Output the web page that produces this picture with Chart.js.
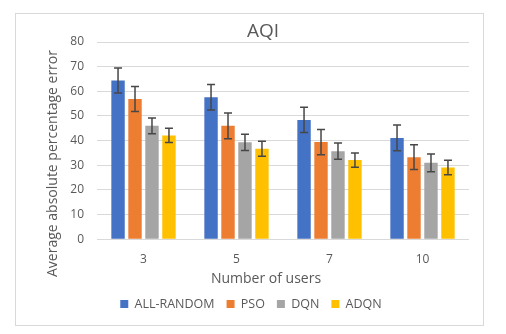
<!DOCTYPE html>
<html>
<head>
<meta charset="utf-8">
<script src="https://cdn.jsdelivr.net/npm/chart.js@4/dist/chart.umd.min.js"></script>
<style>
  html, body { margin: 0; padding: 0; background: #ffffff; }
  #wrap { width: 506px; height: 334px; }
</style>
</head>
<body>
<div id="wrap"><canvas id="c" width="506" height="334"></canvas></div>
<script>
const chartTitle = "AQI";
const xTitle = "Number of users";
const yTitle = "Average absolute percentage error";
const categories = ["3", "5", "7", "10"];
const seriesNames = ["ALL-RANDOM", "PSO", "DQN", "ADQN"];
const allRandom = [64.4, 57.6, 48.4, 41.1];
const allRandomErr = [5.1, 5.2, 5.1, 5.2];
const pso = [56.9, 46.0, 39.4, 33.3];
const psoErr = [5.1, 5.2, 5.1, 5.0];
const dqn = [46.0, 39.3, 35.7, 31.0];
const dqnErr = [3.2, 3.3, 3.3, 3.6];
const adqn = [42.1, 36.7, 32.1, 29.1];
const adqnErr = [2.9, 3.0, 2.9, 2.9];
const yTicks = [0, 10, 20, 30, 40, 50, 60, 70, 80];

const colors = ["#4472C4", "#ED7D31", "#A5A5A5", "#FFC000"];
const textColor = "#595959";
const fontFamily = "'Open Sans', sans-serif";

const seriesValues = [allRandom, pso, dqn, adqn];
const seriesErrors = [allRandomErr, psoErr, dqnErr, adqnErr];

const datasets = seriesNames.map((name, i) => ({
  label: name,
  data: seriesValues[i],
  errors: seriesErrors[i],
  backgroundColor: colors[i],
  borderWidth: 0,
  categoryPercentage: 0.73,
  barPercentage: 0.79
}));

const frameAndText = {
  id: "frameAndText",
  beforeDraw(chart) {
    const ctx = chart.ctx;
    ctx.save();
    ctx.fillStyle = "#ffffff";
    ctx.fillRect(0, 0, chart.width, chart.height);
    ctx.strokeStyle = "#d9d9d9";
    ctx.lineWidth = 1;
    ctx.strokeRect(15.5, 13.5, 468, 312);
    ctx.restore();
  },
  afterDraw(chart) {
    const ctx = chart.ctx;
    ctx.save();
    ctx.fillStyle = textColor;
    ctx.textAlign = "center";
    ctx.textBaseline = "alphabetic";
    ctx.font = "19px " + fontFamily;
    ctx.fillText(chartTitle, 263, 37);
    ctx.font = "14px " + fontFamily;
    ctx.fillText(xTitle, 266, 283);
    ctx.translate(56.5, 163.5);
    ctx.rotate(-Math.PI / 2);
    ctx.fillText(yTitle, 0, 0);
    ctx.restore();
  }
};

const errorBars = {
  id: "errorBars",
  afterDatasetsDraw(chart) {
    const ctx = chart.ctx;
    const yScale = chart.scales.y;
    ctx.save();
    ctx.strokeStyle = "#474747";
    ctx.lineWidth = 1.5;
    chart.data.datasets.forEach((ds, i) => {
      const meta = chart.getDatasetMeta(i);
      meta.data.forEach((bar, j) => {
        const v = ds.data[j];
        const e = ds.errors[j];
        const x = bar.x;
        const yTop = yScale.getPixelForValue(v + e);
        const yBot = yScale.getPixelForValue(v - e);
        const cap = 4;
        ctx.beginPath();
        ctx.moveTo(x, yTop); ctx.lineTo(x, yBot);
        ctx.moveTo(x - cap, yTop); ctx.lineTo(x + cap, yTop);
        ctx.moveTo(x - cap, yBot); ctx.lineTo(x + cap, yBot);
        ctx.stroke();
      });
    });
    ctx.restore();
  }
};

new Chart(document.getElementById("c"), {
  type: "bar",
  data: { labels: categories, datasets },
  options: {
    responsive: false,
    animation: false,
    devicePixelRatio: 1,
    layout: { padding: { left: 33, right: 37, top: 42, bottom: 13.75 } },
    plugins: {
      title: { display: false },
      tooltip: { enabled: false },
      legend: {
        position: "bottom",
        labels: {
          boxWidth: 8,
          boxHeight: 8,
          padding: 12,
          color: textColor,
          font: { family: fontFamily, size: 12.5 }
        }
      }
    },
    scales: {
      x: {
        grid: { display: false, drawTicks: false },
        border: { display: false },
        ticks: { color: textColor, padding: 13, font: { family: fontFamily, size: 12 } },
        afterFit(scale) { scale.height = 46.5; }
      },
      y: {
        min: 0,
        max: 80,
        afterBuildTicks(scale) { scale.ticks = yTicks.map(v => ({ value: v })); },
        grid: { color: "#d9d9d9", lineWidth: 1, drawTicks: false },
        border: { display: false },
        ticks: { color: textColor, padding: 13, font: { family: fontFamily, size: 12 } },
        afterFit(scale) { scale.width = 64; }
      }
    }
  },
  plugins: [frameAndText, errorBars]
});
</script>
</body>
</html>
